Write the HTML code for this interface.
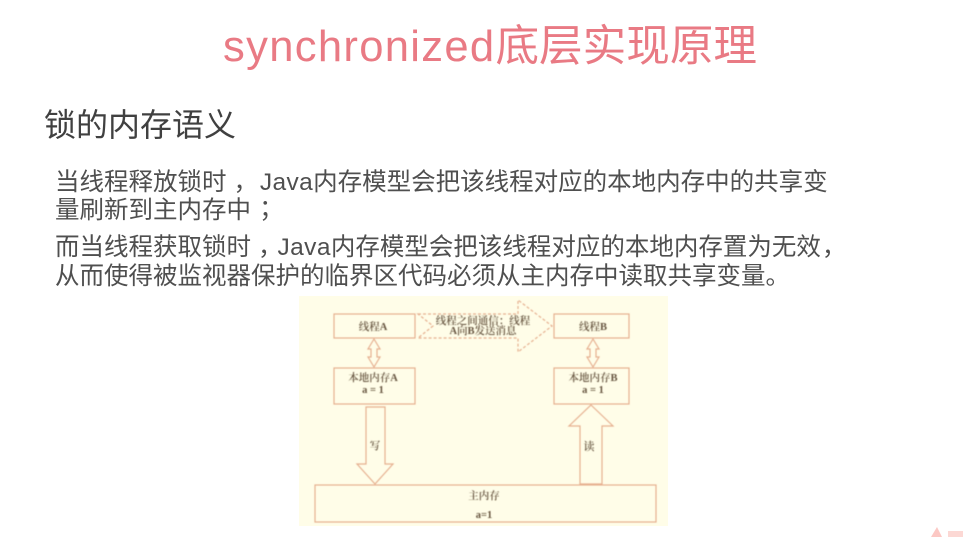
<!DOCTYPE html>
<html lang="zh">
<head>
<meta charset="utf-8">
<style>
html,body{margin:0;padding:0;background:#fff}
body{width:963px;height:537px;position:relative;overflow:hidden;font-family:"Liberation Sans","Noto Sans CJK SC",sans-serif}
.t{position:absolute;white-space:nowrap;line-height:1;filter:blur(0.3px)}
#title{left:223px;top:26px;font-size:43.6px;color:#e97a84}
#title span{letter-spacing:1.3px}
#head{left:44px;top:109px;font-size:32px;color:#404040}
.b{left:55px;font-size:24.5px;color:#4f4f4f}
.b i{font-style:normal;font-family:"Noto Sans CJK TC",sans-serif}
.b u{text-decoration:none;position:relative;left:7px}
.b b{font-weight:normal;letter-spacing:.4px}
svg{position:absolute;left:0;top:0}
</style>
</head>
<body>
<div class="t" id="title"><span>synchronized</span>底层实现原理</div>
<div class="t" id="head">锁的内存语义</div>
<div class="t b" style="top:171px">当线程释放锁时<u>，</u> <b style="margin-left:2px">Java</b>内存模型会把该线程对应的本地内存中的共享变</div>
<div class="t b" style="top:197px">量刷新到主内存中<i lang="zh-Hant" style="position:relative;left:2px">；</i></div>
<div class="t b" style="top:236px">而当线程获取锁时<u>，</u><b style="margin-left:2px">Java</b>内存模型会把该线程对应的本地内存置为无效<u style="left:1px">，</u></div>
<div class="t b" style="top:265px">从而使得被监视器保护的临界区代码必须从主内存中读取共享变量。</div>
<svg width="963" height="537" viewBox="0 0 963 537">
<defs><filter id="f" x="-5%" y="-5%" width="110%" height="110%"><feGaussianBlur stdDeviation="0.45"/></filter></defs>
<rect x="299" y="296" width="369" height="230" fill="#fffde8"/>
<g filter="url(#f)" fill="none" stroke="#e6b090" stroke-width="1.2">
<rect x="334" y="314" width="81" height="24"/>
<rect x="554" y="314" width="75" height="24"/>
<rect x="334" y="368" width="81" height="36"/>
<rect x="554" y="368" width="75" height="36"/>
<rect x="315" y="485" width="341" height="37"/>
<path d="M418 314H518V300L552 326L518 352V338H418L433 326Z" stroke-dasharray="3 2"/>
<path d="M374 339L380 349H377V357H380L374 367L368 357H371V349H368Z"/>
<path d="M593 339L599 349H596V357H599L593 367L587 357H590V349H587Z"/>
<path d="M366 407H385V464H393L375 484L357 464H366Z"/>
<path d="M591 405L613 426H602V484H580V426H569Z"/>
</g>
<g filter="url(#f)" font-family="Liberation Serif,Noto Serif CJK SC,serif" fill="#66543f" font-size="10.5" text-anchor="middle" font-weight="600">
<text x="373" y="330">线程A</text>
<text x="593" y="330">线程B</text>
<text x="373" y="381">本地内存A</text>
<text x="373" y="393">a = 1</text>
<text x="593" y="381">本地内存B</text>
<text x="593" y="393">a = 1</text>
<text x="483" y="324">线程之间通信：线程</text>
<text x="483" y="334">A向B发送消息</text>
<text x="375" y="449">写</text>
<text x="589" y="450" font-size="11">读</text>
<text x="484" y="499">主内存</text>
<text x="484" y="518">a=1</text>
</g>
<path d="M931 537L937 527L942 537Z" fill="#fcc8c4"/>
<rect x="948" y="531" width="15" height="6" fill="#fcd8d4"/>
</svg>
</body>
</html>
